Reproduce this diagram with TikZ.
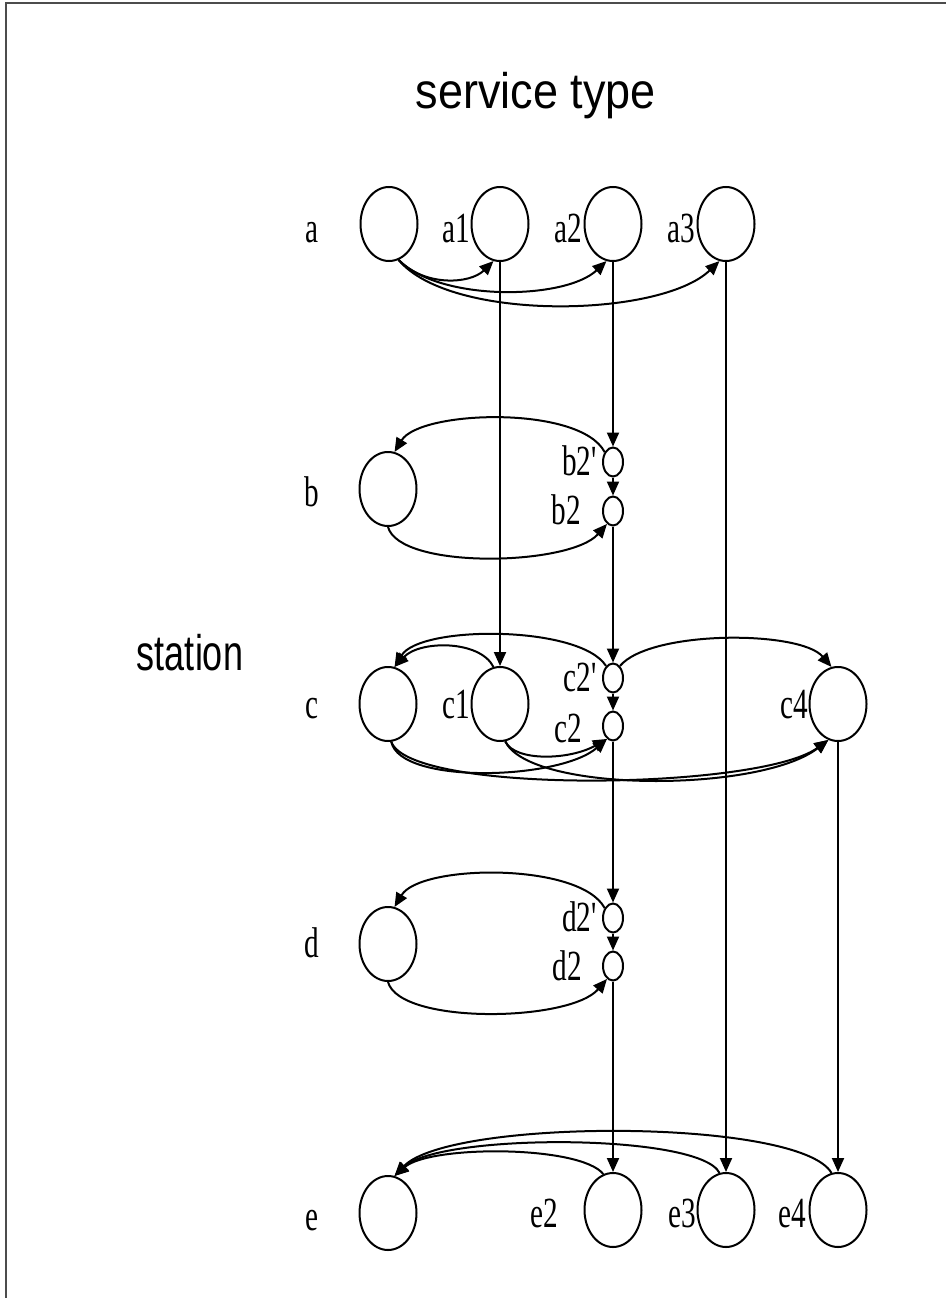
\documentclass[tikz,border=0pt]{standalone}
\usepackage{fontspec}
\usepackage{graphicx}
\setmainfont{Liberation Serif}
\newfontfamily\hvfont{Liberation Sans}
\usetikzlibrary{shapes.geometric,arrows.meta}
\newcommand{\lab}[1]{\scalebox{0.68}[1]{#1}}
\newcommand{\ttl}[1]{\scalebox{0.72}[1]{#1}}
\newcommand{\ttlw}[1]{\scalebox{0.9}[1]{#1}}
\newcommand{\pr}{\textquotesingle}
\begin{document}
\begin{tikzpicture}[x=1pt,y=-1pt,
  big/.style={draw, ellipse, line width=2pt, minimum width=57pt, minimum height=74pt, inner sep=0pt},
  small/.style={draw, ellipse, line width=2pt, minimum width=20pt, minimum height=29pt, inner sep=0pt},
  lbl/.style={font=\fontsize{43}{43}\selectfont, inner sep=0pt},
  ttlfont/.style={font=\hvfont\fontsize{50}{50}\selectfont, inner sep=0pt},
  conn/.style={line width=2pt, -{Triangle[length=14pt,width=12pt]}},
  frameline/.style={line width=2pt, draw=black!70}
]
\useasboundingbox (0,0) rectangle (946,1298);
\fill[white] (0,0) rectangle (946,1298);
\draw[frameline] (6,1298) -- (6,3) -- (946,3);

% titles
\node[ttlfont, anchor=base] (st) at (536,108) {\ttlw{service type}};
\node[ttlfont, anchor=base] (stn) at (190,670) {\ttl{station}};

% nodes
\node[big] (a) at (389,224) {};
\node[big] (a1) at (500,224) {};
\node[big] (a2) at (613,224) {};
\node[big] (a3) at (726,224) {};
\node[big] (b) at (388,489) {};
\node[small] (b2p) at (613,462) {};
\node[small] (b2) at (613,511) {};
\node[big] (c) at (388,704) {};
\node[big] (c1) at (500,704) {};
\node[small] (c2p) at (613,678) {};
\node[small] (c2) at (613,726) {};
\node[big] (c4) at (838,704) {};
\node[big] (d) at (388,944) {};
\node[small] (d2p) at (613,918) {};
\node[small] (d2) at (613,966) {};
\node[big] (e) at (388,1213) {};
\node[big] (e2) at (613,1210) {};
\node[big] (e3) at (726,1210) {};
\node[big] (e4) at (838,1210) {};

% labels
\node[lbl, anchor=base] (la) at (312,242) {\lab{a}};
\node[lbl, anchor=base east] (la1) at (470,242) {\lab{a1}};
\node[lbl, anchor=base east] (la2) at (582,242) {\lab{a2}};
\node[lbl, anchor=base east] (la3) at (695,242) {\lab{a3}};
\node[lbl, anchor=base] (lb) at (312,506) {\lab{b}};
\node[lbl, anchor=base east] (lb2p) at (597,475) {\lab{b2\pr}};
\node[lbl, anchor=base east] (lb2) at (581,524) {\lab{b2}};
\node[lbl, anchor=base] (lc) at (312,718) {\lab{c}};
\node[lbl, anchor=base east] (lc1) at (470,718) {\lab{c1}};
\node[lbl, anchor=base east] (lc2p) at (597,691) {\lab{c2\pr}};
\node[lbl, anchor=base east] (lc2) at (582,742) {\lab{c2}};
\node[lbl, anchor=base east] (lc4) at (808,718) {\lab{c4}};
\node[lbl, anchor=base] (ld) at (312,957) {\lab{d}};
\node[lbl, anchor=base east] (ld2p) at (597,931) {\lab{d2\pr}};
\node[lbl, anchor=base east] (ld2) at (582,980) {\lab{d2}};
\node[lbl, anchor=base] (le) at (312,1230) {\lab{e}};
\node[lbl, anchor=base east] (le2) at (558,1227) {\lab{e2}};
\node[lbl, anchor=base east] (le3) at (696,1227) {\lab{e3}};
\node[lbl, anchor=base east] (le4) at (806,1227) {\lab{e4}};

% row a arcs
\draw[conn] (a.-75) .. controls (425,287) and (470,284) .. (a1.-100);
\draw[conn] (a.-75) .. controls (440,302) and (565,300) .. (a2.-100);
\draw[conn] (a.-75) .. controls (450,322) and (660,318) .. (a3.-100);

% vertical connectors
\draw[conn] (a1.south) -- (c1.north);
\draw[conn] (a2.south) -- (b2p.north);
\draw[conn] (b2p.south) -- (b2.north);
\draw[conn] (b2.south) -- (c2p.north);
\draw[conn] (c2p.south) -- (c2.north);
\draw[conn] (c2.south) -- (d2p.north);
\draw[conn] (d2p.south) -- (d2.north);
\draw[conn] (d2.south) -- (e2.north);
\draw[conn] (a3.south) -- (e3.north);
\draw[conn] (c4.south) -- (e4.north);

% row b arcs
\draw[conn] (b2p.130) .. controls (580,405) and (420,410) .. (b.80);
\draw[conn] (b.-90) .. controls (400,570) and (570,566) .. (b2.-115);

% row c arcs
\draw[conn] (c2p.120) .. controls (580,625) and (420,625) .. (c.80);
\draw[conn] (c1.100) .. controls (480,640) and (420,640) .. (c.80);
\draw[conn] (c2p.60) .. controls (650,630) and (800,630) .. (c4.100);
\draw[conn] (c.-85) .. controls (400,785) and (560,780) .. (c2.-115);
\draw[conn] (c.-85) .. controls (410,795) and (760,790) .. (c4.-105);
\draw[conn] (c1.-82) .. controls (515,762) and (570,760) .. (c2.-115);
\draw[conn] (c1.-82) .. controls (530,793) and (760,793) .. (c4.-105);

% row d arcs
\draw[conn] (d2p.130) .. controls (580,862) and (420,864) .. (d.80);
\draw[conn] (d.-90) .. controls (400,1025) and (570,1022) .. (d2.-115);

% row e arcs
\draw[conn] (e2.105) .. controls (580,1145) and (430,1145) .. (e.80);
\draw[conn] (e3.100) .. controls (700,1133) and (440,1133) .. (e.80);
\draw[conn] (e4.100) .. controls (800,1118) and (450,1118) .. (e.80);
\end{tikzpicture}
\end{document}
